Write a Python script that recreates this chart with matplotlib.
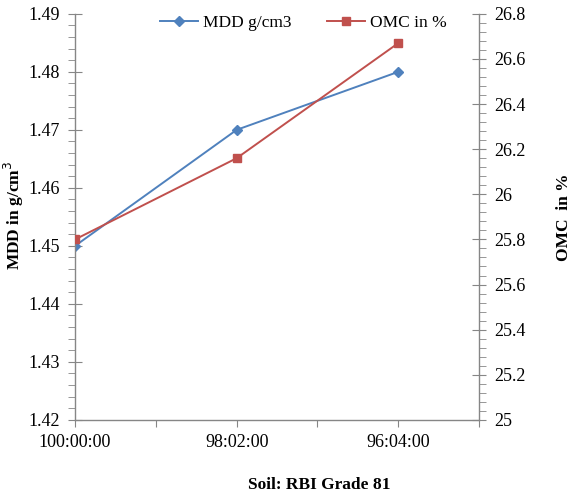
import matplotlib.pyplot as plt
from matplotlib.ticker import MultipleLocator, FuncFormatter

plt.rcParams["font.family"] = ["Liberation Serif", "DejaVu Serif"]

# Data
categories = ["100:00:00", "98:02:00", "96:04:00"]
mdd = [1.45, 1.47, 1.48]
omc = [25.80, 26.16, 26.67]

BLUE = "#4F81BD"
RED = "#C0504D"
GRAY = "#868686"

fig = plt.figure(figsize=(5.73, 4.94), dpi=100)
ax = fig.add_axes([0.131, 0.150, 0.705, 0.822])
ax2 = ax.twinx()

x = list(range(len(categories)))
l1, = ax.plot(x, mdd, color=BLUE, lw=1.4, marker="D", ms=5, label="MDD g/cm3")
l2, = ax2.plot(x, omc, color=RED, lw=1.4, marker="s", ms=5.5, label="OMC in %")

ax.set_xlim(0, 2.5)
ax.set_ylim(1.42, 1.49)
ax2.set_ylim(25, 26.8)

ax.xaxis.set_major_locator(MultipleLocator(0.5))
ax.xaxis.set_major_formatter(
    FuncFormatter(lambda v, p: categories[int(round(v))] if abs(v - round(v)) < 1e-6 and int(round(v)) < len(categories) else "")
)
ax.yaxis.set_major_locator(MultipleLocator(0.01))
ax.yaxis.set_minor_locator(MultipleLocator(0.002))
ax.yaxis.set_major_formatter(FuncFormatter(lambda v, p: f"{v:g}"))
ax2.yaxis.set_major_locator(MultipleLocator(0.2))
ax2.yaxis.set_minor_locator(MultipleLocator(0.04))
ax2.yaxis.set_major_formatter(FuncFormatter(lambda v, p: f"{v:g}"))

for a in (ax, ax2):
    a.spines["top"].set_visible(False)
    for s in a.spines.values():
        s.set_color(GRAY)
        s.set_linewidth(1.0)
ax.spines["right"].set_visible(False)
ax2.spines["left"].set_visible(False)
ax2.spines["bottom"].set_visible(False)

ax.tick_params(axis="y", which="major", direction="inout", length=10, color=GRAY, labelsize=13, pad=6)
ax.tick_params(axis="y", which="minor", direction="out", length=5, color=GRAY)
ax.tick_params(axis="x", which="major", direction="out", length=5, color=GRAY, labelsize=13, pad=5)
ax2.tick_params(axis="y", which="major", direction="inout", length=10, color=GRAY, labelsize=13, pad=6)
ax2.tick_params(axis="y", which="minor", direction="out", length=5, color=GRAY)

fig.text(0.024, 0.565, "MDD in g/cm$^3$", fontsize=12.5, fontweight="bold",
         rotation=90, ha="center", va="center")
ax2.set_ylabel("OMC  in %", fontsize=12.5, fontweight="bold", labelpad=22)
# x title sits off-centre and runs into the bottom edge, as in the original
fig.text(0.558, 0.034, "Soil: RBI Grade 81", fontsize=12.5, fontweight="bold",
         ha="center", va="top")

ax.legend(handles=[l1, l2], loc="upper center", bbox_to_anchor=(0.565, 1.035), ncol=2,
          frameon=False, fontsize=12.5, handlelength=2.2, columnspacing=2.0, handletextpad=0.3)

fig.savefig("out.png", dpi=100)
